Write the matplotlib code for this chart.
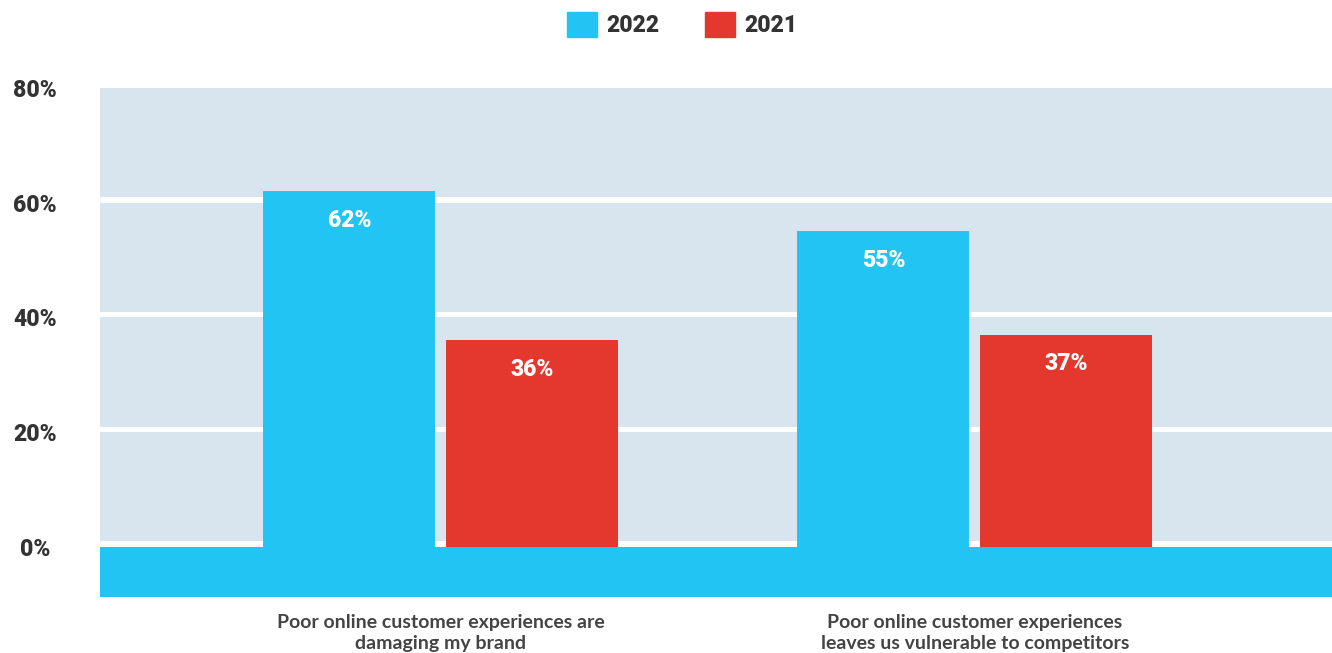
import matplotlib
matplotlib.use("Agg")
import matplotlib.pyplot as plt
import matplotlib.patches as mpatches
import numpy as np

# Data
categories = [
    "Poor online customer experiences are\ndamaging my brand",
    "Poor online customer experiences\nleaves us vulnerable to competitors",
]
series_names = ["2022", "2021"]
values_2022 = [62, 55]
values_2021 = [36, 37]
y_ticks = [0, 20, 40, 60, 80]
y_tick_labels = ["0%", "20%", "40%", "60%", "80%"]

# Style
CYAN = "#22C4F3"
RED = "#E4372D"
BAND = "#D8E5EE"
TEXT = "#333333"
CAT_TEXT = "#444444"
NUM_FONT = {"family": "Roboto", "weight": 900, "size": 16.5}

fig = plt.figure(figsize=(13.32, 6.53), dpi=100)
ax = fig.add_axes([0.0751, 0.0851, 0.9249, 0.7801])

ymin, ymax = -8.84, 80
ax.set_ylim(ymin, ymax)
ax.set_xlim(-0.638, 1.669)

# Banded background: light bands separated by thin white gaps
for lo in y_ticks[:-1]:
    ax.axhspan(lo + 0.95, lo + 20, color=BAND, zorder=0, lw=0)
# Solid base strip below zero
ax.axhspan(ymin, 0, color=CYAN, zorder=0, lw=0)

x = np.arange(len(categories))
width = 0.322
offset = 0.171
bars_a = ax.bar(x - offset, values_2022, width, color=CYAN, zorder=2, label=series_names[0])
bars_b = ax.bar(x + offset, values_2021, width, color=RED, zorder=2, label=series_names[1])

for bars, vals in ((bars_a, values_2022), (bars_b, values_2021)):
    for b, v in zip(bars, vals):
        ax.annotate(f"{v}%", (b.get_x() + b.get_width() / 2, v),
                    xytext=(0, -21), textcoords="offset points",
                    ha="center", va="center", color="white",
                    zorder=3, **NUM_FONT)

for s in ax.spines.values():
    s.set_visible(False)

ax.set_yticks(y_ticks)
ax.set_yticklabels(y_tick_labels, color=TEXT, ha="center", **NUM_FONT)
ax.tick_params(axis="y", length=0, pad=47)

ax.set_xticks(x)
ax.set_xticklabels(categories, fontsize=14, fontweight="bold",
                   family="Lato", color=CAT_TEXT, linespacing=1.3)
ax.tick_params(axis="x", length=0, pad=12)

handles = [mpatches.Patch(color=CYAN), mpatches.Patch(color=RED)]
leg = fig.legend(handles, series_names, loc="center", bbox_to_anchor=(0.512, 0.9625),
                 ncol=2, frameon=False, handlelength=1.31, handleheight=1.31,
                 handletextpad=0.4, columnspacing=2.0, prop=NUM_FONT)
for t in leg.get_texts():
    t.set_color(TEXT)

fig.savefig("out.png", dpi=100, facecolor="white")
